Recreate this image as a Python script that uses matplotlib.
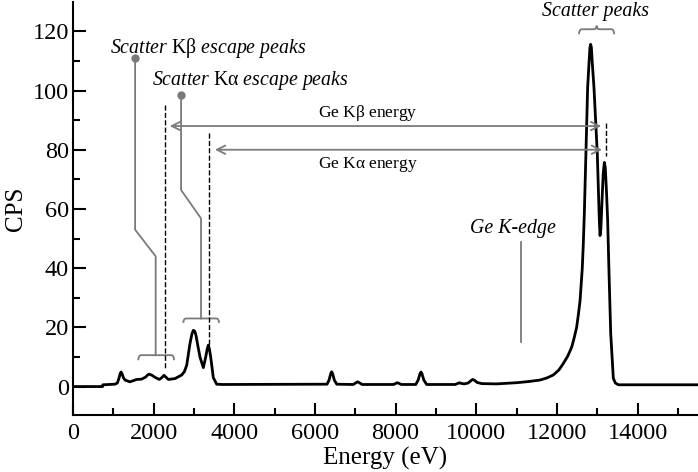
import numpy as np
import matplotlib
matplotlib.use('Agg')
import matplotlib.pyplot as plt
from matplotlib.path import Path
from matplotlib.patches import PathPatch

plt.rcParams['font.family'] = ['Liberation Serif', 'DejaVu Serif']
plt.rcParams['mathtext.fontset'] = 'custom'
plt.rcParams['mathtext.rm'] = 'Liberation Serif'
plt.rcParams['mathtext.it'] = 'Liberation Serif:italic'

# spectrum (eV, counts per second)
energy = [0, 735, 740, 1040, 1100, 1140, 1170, 1190, 1215, 1250, 1290, 1410, 1580, 1700,
          1800, 1850, 1890, 1960, 2035, 2140, 2200, 2257, 2310, 2365, 2530, 2695, 2760,
          2820, 2900, 2950, 2985, 3020, 3050, 3100, 3150, 3232, 3290, 3330, 3357, 3385,
          3415, 3480, 3563, 3700,
          6300, 6350, 6390, 6415, 6440, 6480, 6540, 6950, 7020, 7060, 7100, 7170,
          7950, 8010, 8045, 8080, 8140, 8500, 8560, 8605, 8630, 8655, 8700, 8770,
          9480, 9550, 9580, 9620, 9700, 9800, 9870, 9910, 9960, 10020, 10135, 10500,
          11000, 11300, 11580, 11750, 11910, 12050, 12160, 12270, 12370, 12430, 12490,
          12530, 12575, 12600, 12630, 12655, 12680, 12720, 12763, 12800, 12820, 12838,
          12856, 12875, 12920, 13003, 13053, 13070, 13090, 13130, 13150, 13177, 13200,
          13230, 13260, 13290, 13335, 13400, 13450, 13525, 15500]
cps = [0, 0, 0.6, 0.8, 1.2, 2.8, 4.4, 4.9, 4.4, 3.0, 2.2, 1.6, 2.4, 2.5,
       3.2, 3.9, 4.2, 3.8, 3.1, 2.4, 3.0, 3.8, 3.1, 2.4, 2.7, 3.9, 5.0,
       7.2, 14.5, 17.8, 19.0, 18.7, 17.3, 13.5, 9.9, 6.4, 9.9, 12.8, 14.0, 12.5,
       9.9, 3.0, 0.8, 0.7,
       0.8, 2.2, 4.3, 5.0, 4.3, 2.2, 0.8, 0.7, 1.3, 1.6, 1.3, 0.7,
       0.7, 1.1, 1.3, 1.1, 0.7, 0.7, 2.2, 4.3, 4.9, 4.3, 2.2, 0.7,
       0.7, 1.1, 1.3, 1.1, 0.9, 1.2, 2.0, 2.4, 2.1, 1.4, 1.0, 0.9,
       1.3, 1.7, 2.2, 2.9, 3.9, 5.6, 7.8, 10.3, 13.4, 16.5, 20,
       24, 29, 34, 40, 48, 58, 78.5, 101, 110, 114.5, 115.6,
       114.5, 110, 101, 78.5, 56, 51, 53, 66, 72, 75.7, 74,
       66, 56, 40, 18, 2.8, 1.2, 0.6, 0.6]

xticks = [0, 2000, 4000, 6000, 8000, 10000, 12000, 14000]
yticks = [0, 20, 40, 60, 80, 100, 120]

grey = '#7a7a7a'

# leader lines from the labels down to the braces
kb_leader_x = [1540, 1540, 2050, 2050]
kb_leader_y = [111, 53, 44, 10.6]
ka_leader_x = [2680, 2680, 3175, 3175]
ka_leader_y = [98.5, 66.4, 56.8, 23]


def brace(ax, x0, x1, y, tip, cusp, r):
    xc = (x0 + x1) / 2
    verts = [(x0, y + tip), (x0, y), (x0 + r, y), (xc - r, y), (xc, y), (xc, y + cusp),
             (xc, y), (xc + r, y), (x1 - r, y), (x1, y), (x1, y + tip)]
    codes = [Path.MOVETO, Path.CURVE3, Path.CURVE3, Path.LINETO, Path.CURVE3, Path.CURVE3,
             Path.CURVE3, Path.CURVE3, Path.LINETO, Path.CURVE3, Path.CURVE3]
    ax.add_patch(PathPatch(Path(verts, codes), fill=False, ec=grey, lw=1.3))


fig = plt.figure(figsize=(6.98, 4.72), dpi=100)
ax = fig.add_axes([0.1046, 0.1208, 0.8954, 0.8756])

ax.plot(energy, cps, color='black', lw=2, solid_joinstyle='round')

ax.set_xlim(0, 15500)
ax.set_ylim(-9.6, 130)
ax.set_xticks(xticks)
ax.set_yticks(yticks)
ax.set_xticks(np.arange(1000, 15500, 2000), minor=True)
ax.set_yticks(np.arange(10, 130, 20), minor=True)
ax.tick_params(which='both', direction='in', width=1.5, labelsize=17.5)
ax.tick_params(which='major', length=9)
ax.tick_params(which='minor', length=5)
ax.tick_params(axis='x', pad=6)
ax.tick_params(axis='y', pad=3)
for s in ['top', 'right']:
    ax.spines[s].set_visible(False)
for s in ['left', 'bottom']:
    ax.spines[s].set_linewidth(1.5)

ax.set_xlabel('Energy (eV)', fontsize=18, labelpad=2)
ax.set_ylabel('CPS', fontsize=18, labelpad=4)

# escape-peak markers
ax.plot([2280, 2280], [95, 5.5], ls='--', color='black', lw=1)
ax.plot([3380, 3380], [85.5, 14], ls='--', color='black', lw=1)
ax.plot([13210, 13210], [89, 78], ls='--', color='black', lw=1)

ax.annotate('', xy=(2400, 88), xytext=(13100, 88),
            arrowprops=dict(arrowstyle='<->', color=grey, lw=1.3,
                            mutation_scale=15, shrinkA=0, shrinkB=0))
ax.annotate('', xy=(3520, 80), xytext=(13120, 80),
            arrowprops=dict(arrowstyle='<->', color=grey, lw=1.3,
                            mutation_scale=15, shrinkA=0, shrinkB=0))
ax.text(7320, 92.4, r'Ge K$\mathrm{\beta}$ energy', fontsize=12.5, ha='center', va='center')
ax.text(7320, 75, r'Ge K$\mathrm{\alpha}$ energy', fontsize=12.5, ha='center', va='center')

ax.plot(kb_leader_x, kb_leader_y, color=grey, lw=1.3)
ax.plot(ka_leader_x, ka_leader_y, color=grey, lw=1.3)
ax.plot([kb_leader_x[0], ka_leader_x[0]], [kb_leader_y[0], ka_leader_y[0]], 'o',
        color=grey, ms=5)
brace(ax, 1620, 2505, 10.6, -1.7, 0, 70)
brace(ax, 2736, 3621, 23, -1.5, 0, 70)
brace(ax, 12550, 13420, 120.7, -1.7, 1.2, 70)

ax.text(920, 114.4, r'Scatter $\mathrm{K\beta}$ escape peaks', fontsize=14.3,
        style='italic', ha='left', va='center')
ax.text(1960, 103.4, r'Scatter $\mathrm{K\alpha}$ escape peaks', fontsize=14.3,
        style='italic', ha='left', va='center')
ax.text(12970, 126.8, 'Scatter peaks', fontsize=14.3, style='italic',
        ha='center', va='center')
ax.text(10910, 53.3, 'Ge K-edge', fontsize=14.3, style='italic', ha='center', va='center')
ax.plot([11100, 11100], [48.7, 15], color=grey, lw=1.3)

fig.savefig('out.png', dpi=100)
